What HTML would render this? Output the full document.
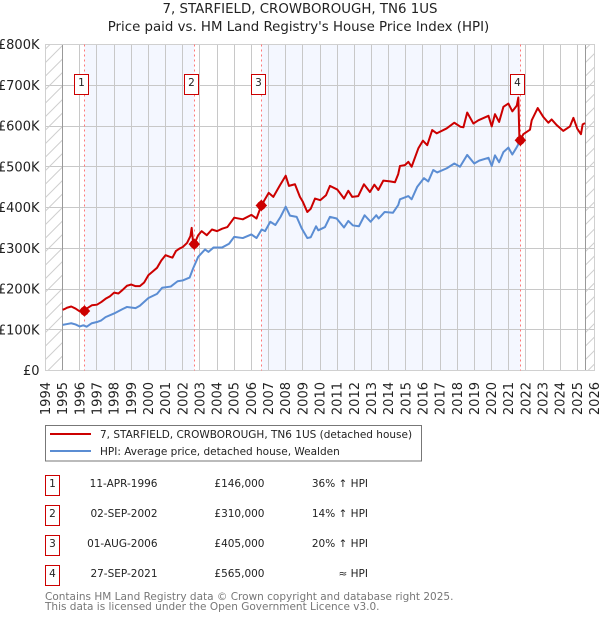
<!DOCTYPE html>
<html>
<head>
<meta charset="utf-8">
<style>
html,body{margin:0;padding:0;background:#fff}
#chart{display:block;width:600px;height:620px;font-family:"DejaVu Sans","Liberation Sans",sans-serif}
</style>
</head>
<body>
<svg id="chart" xmlns="http://www.w3.org/2000/svg" width="600" height="620" viewBox="0 0 600 620">
<defs>
<pattern id="hatch" patternUnits="userSpaceOnUse" width="13.5" height="13.5">
<path d="M-1 14.5L14.5 -1M-1 1L1 -1M12.5 14.5L14.5 12.5" stroke="#cfcfcf" stroke-width="1" fill="none"/>
</pattern>
</defs>
<text x="300" y="13" text-anchor="middle" font-size="13.35" fill="#222">7, STARFIELD, CROWBOROUGH, TN6 1US</text>
<text x="298.5" y="31" text-anchor="middle" font-size="13.35" fill="#222">Price paid vs. HM Land Registry's House Price Index (HPI)</text>
<g id="plot"></g>

<g>
<rect x="45.5" y="425.5" width="376" height="35.5" fill="#fff" stroke="#777" stroke-width="1"/>
<line x1="50" x2="91" y1="434" y2="434" stroke="#cc0000" stroke-width="2"/>
<line x1="50" x2="91" y1="451" y2="451" stroke="#5b8dd3" stroke-width="2"/>
<text x="100" y="438" font-size="10.5" fill="#222">7, STARFIELD, CROWBOROUGH, TN6 1US (detached house)</text>
<text x="100" y="455" font-size="10.5" fill="#222">HPI: Average price, detached house, Wealden</text>
</g>

<g font-size="10.5" fill="#222">
<g>
<rect x="45.5" y="475.5" width="14" height="20" fill="#fff" stroke="#cc0000"/>
<text x="52.5" y="487" text-anchor="middle">1</text>
<text x="157.5" y="487" text-anchor="end">11-APR-1996</text>
<text x="264.5" y="487" text-anchor="end">£146,000</text>
<text x="368" y="487" text-anchor="end">36% ↑ HPI</text>
</g>
<g>
<rect x="45.5" y="505.5" width="14" height="20" fill="#fff" stroke="#cc0000"/>
<text x="52.5" y="517" text-anchor="middle">2</text>
<text x="157.5" y="517" text-anchor="end">02-SEP-2002</text>
<text x="264.5" y="517" text-anchor="end">£310,000</text>
<text x="368" y="517" text-anchor="end">14% ↑ HPI</text>
</g>
<g>
<rect x="45.5" y="535.5" width="14" height="20" fill="#fff" stroke="#cc0000"/>
<text x="52.5" y="547" text-anchor="middle">3</text>
<text x="157.5" y="547" text-anchor="end">01-AUG-2006</text>
<text x="264.5" y="547" text-anchor="end">£405,000</text>
<text x="368" y="547" text-anchor="end">20% ↑ HPI</text>
</g>
<g>
<rect x="45.5" y="565.5" width="14" height="20" fill="#fff" stroke="#cc0000"/>
<text x="52.5" y="577" text-anchor="middle">4</text>
<text x="157.5" y="577" text-anchor="end">27-SEP-2021</text>
<text x="264.5" y="577" text-anchor="end">£565,000</text>
<text x="368" y="577" text-anchor="end">≈ HPI</text>
</g>
</g>
<text x="45" y="600" font-size="10.5" fill="#777">Contains HM Land Registry data © Crown copyright and database right 2025.</text>
<text x="45" y="610" font-size="10.5" fill="#777">This data is licensed under the Open Government Licence v3.0.</text>
</svg>
<script>
const yearTicks = [1994,1995,1996,1997,1998,1999,2000,2001,2002,2003,2004,2005,2006,2007,2008,2009,2010,2011,2012,2013,2014,2015,2016,2017,2018,2019,2020,2021,2022,2023,2024,2025,2026];
const valueTicks = [0,100,200,300,400,500,600,700,800];
const valueTickLabels = ['£0','£100K','£200K','£300K','£400K','£500K','£600K','£700K','£800K'];

const saleNumbers = ['1','2','3','4'];
const saleYears = [1996.27,2002.67,2006.58,2021.68];
const salePrices = [146,310,405,565];

const priceYears = [1995,1995.12,1995.25,1995.5,1995.75,1996,1996.27,1996.4,1996.7,1997,1997.25,1997.5,1997.75,1998,1998.25,1998.5,1998.75,1999,1999.25,1999.5,1999.75,2000,2000.25,2000.5,2000.75,2001,2001.25,2001.4,2001.6,2001.8,2002,2002.25,2002.45,2002.52,2002.6,2002.67,2002.9,2003.1,2003.4,2003.7,2004,2004.3,2004.6,2005,2005.5,2006,2006.3,2006.58,2007.01,2007.28,2007.67,2008,2008.19,2008.54,2008.83,2009,2009.26,2009.46,2009.71,2010.02,2010.35,2010.58,2011.01,2011.4,2011.65,2011.88,2012.23,2012.56,2012.91,2013.17,2013.4,2013.69,2014.08,2014.37,2014.56,2014.66,2014.95,2015.15,2015.34,2015.73,2016,2016.25,2016.54,2016.8,2017.38,2017.83,2018.19,2018.36,2018.58,2018.94,2019.23,2019.82,2020.01,2020.2,2020.44,2020.69,2020.98,2021.21,2021.47,2021.56,2021.62,2021.68,2021.85,2022.24,2022.34,2022.69,2023.02,2023.31,2023.5,2023.8,2024.18,2024.57,2024.77,2025,2025.21,2025.31,2025.45];
const priceValues = [149,151,154,157,152,145,146,152,160,161.5,168,176,182,191,189,198,208,211,207,207,216,234,243,252,270,283,279,277,293,299,303,313,330,350,316,310,332,342,332,346,342,348,352,375,371,382,373,405,436,426,455,478,453,457,426,414,389,397,422,418,430,453,444,422,441,426,428,457,438,456,443,466,464,462,482,502,504,512,500,545,564,553,590,582,594,608,598,597,633,606,614,625,599,629,610,647,655,636,650,670,573,565,580,591,614,644,622,608,616,602,588,599,620,593,580,604,607];

const hpiYears = [1995,1995.25,1995.5,1995.75,1996,1996.2,1996.4,1996.7,1997,1997.25,1997.5,1998,1998.5,1998.75,1999.25,1999.5,2000,2000.5,2000.8,2001.3,2001.7,2002,2002.4,2002.6,2002.9,2003.3,2003.5,2003.8,2004.3,2004.7,2005,2005.5,2006,2006.3,2006.6,2006.8,2007.1,2007.4,2007.7,2008,2008.25,2008.64,2008.93,2009.26,2009.46,2009.77,2009.9,2010.29,2010.58,2010.97,2011.4,2011.65,2011.92,2012.27,2012.6,2012.95,2013.28,2013.42,2013.77,2014.25,2014.56,2014.66,2015.15,2015.34,2015.67,2016.06,2016.31,2016.6,2016.83,2017.38,2017.83,2018.16,2018.58,2018.99,2019.28,2019.82,2020.01,2020.2,2020.44,2020.69,2020.98,2021.21,2021.47,2021.68];
const hpiValues = [112,114,116,113,108,111,107.5,116,119,123,131,140,151,156,153,159,178,188,203,206,219,221,228,250,279,297,291,302,302,311,328,325,334,325,346,342,365,357,377,402,380,377,349,325,327,354,344,352,377,373,351,367,356,354,381,365,381,373,389,387,406,420,428,420,451,472,464,492,486,496,508,500,529,508,515,522,502,528,511,536,547,530,548,565];

const NS = 'http://www.w3.org/2000/svg';
const plot = document.getElementById('plot');
const plotLeft = 45.5, plotRight = 594.5, plotTop = 44.5, plotBottom = 370.5;
const dataStart = 1995, dataEnd = 2025.48;

function xAxis(year){ return plotLeft + (year - 1994) * (plotRight - plotLeft) / 32; }
function yAxis(value){ return plotBottom - value * (plotBottom - plotTop) / 800; }
function make(tag, attrs){
  const el = document.createElementNS(NS, tag);
  for (const k in attrs) el.setAttribute(k, attrs[k]);
  plot.appendChild(el);
  return el;
}
function snap(v){ return Math.round(v - 0.5) + 0.5; }
function linePath(xs, ys){
  return xs.map((x, i) => (i ? 'L' : 'M') + xAxis(x).toFixed(2) + ' ' + yAxis(ys[i]).toFixed(2)).join('');
}

const bg = make('rect', {x: plotLeft, y: plotTop, width: plotRight - plotLeft, height: plotBottom - plotTop, fill: '#fff'});



const bandA = make('rect', {x: xAxis(saleYears[0]), y: plotTop, width: xAxis(saleYears[1]) - xAxis(saleYears[0]), height: plotBottom - plotTop, fill: '#f4f7ff'});


const bandB = make('rect', {x: xAxis(saleYears[2]), y: plotTop, width: xAxis(saleYears[3]) - xAxis(saleYears[2]), height: plotBottom - plotTop, fill: '#f4f7ff'});



yearTicks.forEach(function(y){
  const x = snap(xAxis(y));
  const g = make('line', {x1: x, x2: x, y1: plotTop, y2: plotBottom, stroke: '#c8c8c8', 'stroke-width': 1});
  
  
  const t = make('text', {transform: 'translate(' + (xAxis(y) + 4.5) + ',382) rotate(-90)', 'text-anchor': 'end', 'font-size': 13, fill: '#222'});
  t.textContent = String(y);
  
  
});
valueTicks.forEach(function(v, i){
  const y = snap(yAxis(v));
  const g = make('line', {x1: plotLeft, x2: plotRight, y1: y, y2: y, stroke: '#c8c8c8', 'stroke-width': 1});
  
  
  const t = make('text', {x: 39.5, y: yAxis(v) + 4.5, 'text-anchor': 'end', 'font-size': 13, fill: '#222'});
  t.textContent = valueTickLabels[i];
  
  
});

const hatchL = make('rect', {x: plotLeft, y: plotTop, width: xAxis(dataStart) - plotLeft, height: plotBottom - plotTop, fill: 'url(#hatch)'});


const hatchR = make('rect', {x: xAxis(dataEnd), y: plotTop, width: plotRight - xAxis(dataEnd), height: plotBottom - plotTop, fill: 'url(#hatch)'});



const edgeL = make('line', {x1: snap(xAxis(dataStart)), x2: snap(xAxis(dataStart)), y1: plotTop, y2: plotBottom, stroke: '#999', 'stroke-width': 1});


const edgeR = make('line', {x1: snap(xAxis(dataEnd)), x2: snap(xAxis(dataEnd)), y1: plotTop, y2: plotBottom, stroke: '#999', 'stroke-width': 1});



const frame = make('rect', {x: plotLeft, y: plotTop, width: plotRight - plotLeft, height: plotBottom - plotTop, fill: 'none', stroke: '#d0d0d0', 'stroke-width': 1});



saleYears.forEach(function(y){
  const x = snap(xAxis(y));
  const v = make('line', {x1: x, x2: x, y1: plotTop, y2: plotBottom, stroke: '#ff7777', 'stroke-width': 1, 'stroke-dasharray': '2 3'});
  
  
});

const hpiLine = make('path', {d: linePath(hpiYears, hpiValues), fill: 'none', stroke: '#5b8dd3', 'stroke-width': 2, 'stroke-linejoin': 'round'});


const priceLine = make('path', {d: linePath(priceYears, priceValues), fill: 'none', stroke: '#cc0000', 'stroke-width': 2, 'stroke-linejoin': 'round'});



saleYears.forEach(function(y, i){
  const cx = xAxis(y), cy = yAxis(salePrices[i]);
  const d = make('path', {d: 'M' + (cx - 5.8) + ' ' + cy + 'L' + cx + ' ' + (cy - 5.8) + 'L' + (cx + 5.8) + ' ' + cy + 'L' + cx + ' ' + (cy + 5.8) + 'Z', fill: '#cc0000'});
  
  
  const c = make('circle', {cx: cx, cy: cy, r: 4.4, fill: '#cc0000'});
  
  
  const bx = snap(cx) - 10;
  const b = make('rect', {x: bx, y: 74.5, width: 14, height: 20, fill: '#fff', stroke: '#cc0000', 'stroke-width': 1});
  
  
  const t = make('text', {x: bx + 7, y: 86, 'text-anchor': 'middle', 'font-size': 10.5, fill: '#222'});
  t.textContent = saleNumbers[i];
  
  
});
</script>
</body>
</html>
